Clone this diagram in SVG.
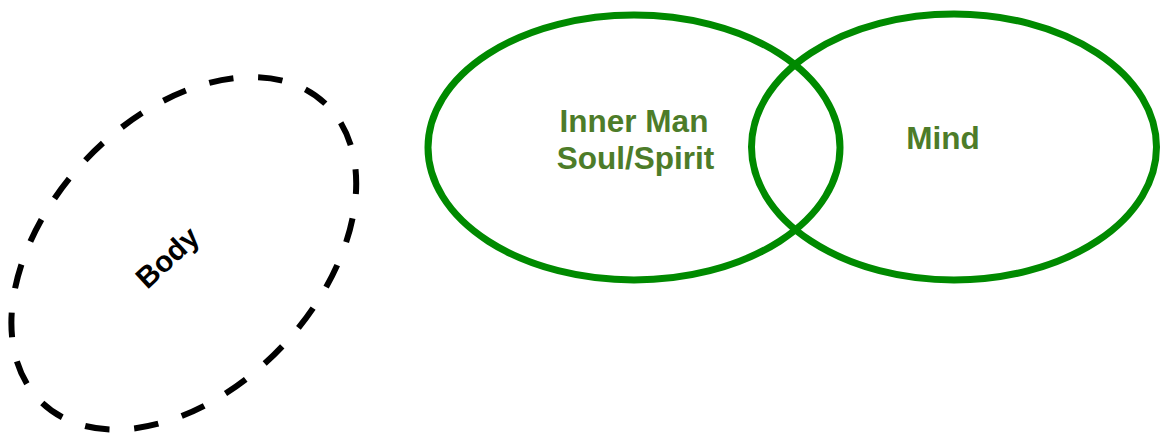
<svg xmlns="http://www.w3.org/2000/svg" width="1161" height="434" viewBox="0 0 1161 434">
  <style>
    .green { fill: none; stroke: #008a00; stroke-width: 7; }
    .dashed { fill: none; stroke: #000000; stroke-width: 6; stroke-dasharray: 24 24; stroke-dashoffset: 24; }
    .lbl { font-family: "Liberation Sans", Arial, Helvetica, sans-serif; font-weight: bold; font-size: 31.5px; fill: #4d7c29; text-anchor: middle; }
    .body { font-family: "Liberation Sans", Arial, Helvetica, sans-serif; font-weight: bold; font-size: 29.5px; fill: #000000; text-anchor: middle; }
  </style>
  <rect width="1161" height="434" fill="#ffffff"/>
  <g id="body">
    <ellipse class="dashed" cx="0" cy="0" rx="206" ry="135.5" pathLength="1056" transform="translate(183.8,253.3) rotate(-46.6)"/>
    <text class="body" x="0" y="10" transform="translate(167.5,257.5) rotate(-43)">Body</text>
  </g>
  <g id="inner-man">
    <ellipse class="green" cx="634" cy="147.5" rx="206" ry="132.5"/>
    <text class="lbl" x="634" y="131.5">Inner Man</text>
    <text class="lbl" x="635.5" y="169">Soul/Spirit</text>
  </g>
  <g id="mind">
    <ellipse class="green" cx="954" cy="147" rx="202.5" ry="133"/>
    <text class="lbl" x="943" y="149">Mind</text>
  </g>
</svg>
